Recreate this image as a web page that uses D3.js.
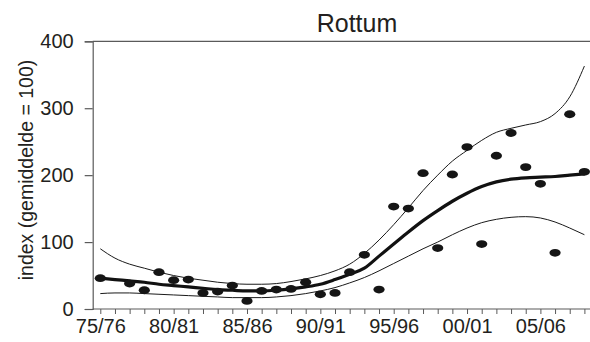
<!DOCTYPE html>
<html>
<head>
<meta charset="utf-8">
<script src="https://cdn.jsdelivr.net/npm/d3@7/dist/d3.min.js"></script>
<style>
  html, body { margin: 0; padding: 0; background: #fff; }
  svg { display: block; font-family: "Liberation Sans", Arial, Helvetica, sans-serif; }
</style>
</head>
<body>
<svg id="chart" width="590" height="342"></svg>
<script>
// Seasons 1975/76 .. 2008/09
const seasons = ["75/76","76/77","77/78","78/79","79/80","80/81","81/82","82/83","83/84","84/85",
                 "85/86","86/87","87/88","88/89","89/90","90/91","91/92","92/93","93/94","94/95",
                 "95/96","96/97","97/98","98/99","99/00","00/01","01/02","02/03","03/04","04/05",
                 "05/06","06/07","07/08","08/09"];
const labelledSeasons = ["75/76","80/81","85/86","90/91","95/96","00/01","05/06"];

// Yearly index values (null = no count)
const indexValues = [46, null, 38, 28, 55, 43, 44, 24, 26, 35,
                     12, 27, 29, 30, 40, 22, 24, 55, 81, 29,
                     153, 150, 203, 91, 201, 242, 97, 229, 263, 212,
                     187, 84, 291, 205];

// Smoothed trend and its confidence band
const trend = [46, 44, 42, 40, 37, 35, 33, 31, 29, 28,
               27, 27, 28, 30, 33, 37, 44, 52, 61, 79,
               97, 115, 132, 147, 161, 173, 183, 190, 194, 196,
               197, 198, 200, 202];
const upper = [90, 76, 67, 61, 55, 50, 46, 43, 40, 38,
               37, 37, 38, 41, 45, 50, 57, 67, 83, 103,
               126, 151, 177, 200, 221, 237, 252, 264, 270, 275,
               280, 292, 317, 363];
const lower = [23, 24, 24, 23, 22, 21, 20, 19, 18, 17,
               17, 17, 18, 20, 23, 27, 32, 39, 47, 57,
               68, 79, 90, 100, 111, 121, 129, 134, 137, 138,
               136, 130, 121, 111];

const yTicks = [0, 100, 200, 300, 400];
const title = "Rottum";
const yLabel = "index (gemiddelde = 100)";

const svg = d3.select("#chart");
const W = 590;
const x = d3.scalePoint().domain(seasons).range([100.3, 584.4]);
const y = d3.scaleLinear().domain([0, 400]).range([309, 41.3]);
const axisLeft = 92.7;
const ink = "#231f20";
const axisColor = "#5a5a5a";

// top frame line
svg.append("line")
  .attr("x1", axisLeft).attr("x2", W)
  .attr("y1", y(400)).attr("y2", y(400))
  .attr("stroke", axisColor).attr("stroke-width", 1.2);

// y axis
const gy = svg.append("g")
  .attr("transform", `translate(${axisLeft},0)`)
  .call(d3.axisLeft(y).tickValues(yTicks).tickSize(8).tickPadding(11).tickFormat(d3.format("d")));
gy.select(".domain").attr("stroke", axisColor).attr("stroke-width", 1.2);
gy.selectAll(".tick line").attr("stroke", axisColor).attr("stroke-width", 1.2);
gy.selectAll("text").attr("font-size", 20).attr("fill", ink)
  .style("font-family", "'Liberation Sans', Arial, sans-serif");

// x axis
const gx = svg.append("g")
  .attr("transform", `translate(0,${y(0)})`)
  .call(d3.axisBottom(x).tickSize(5).tickPadding(4.8)
    .tickFormat(d => labelledSeasons.includes(d) ? d : ""));
gx.select(".domain").attr("d", `M${axisLeft},0H${W}`).attr("stroke", axisColor).attr("stroke-width", 1.2);
gx.selectAll(".tick line").attr("stroke", axisColor).attr("stroke-width", 1);
gx.selectAll("text").attr("font-size", 20).attr("fill", ink)
  .style("font-family", "'Liberation Sans', Arial, sans-serif");

// trend lines
const line = d3.line()
  .x((d, i) => x(seasons[i]))
  .y(d => y(d))
  .curve(d3.curveMonotoneX);

svg.append("path").datum(upper).attr("d", line)
  .attr("fill", "none").attr("stroke", "#1a1a1a").attr("stroke-width", 1);
svg.append("path").datum(lower).attr("d", line)
  .attr("fill", "none").attr("stroke", "#1a1a1a").attr("stroke-width", 1);
svg.append("path").datum(trend).attr("d", line)
  .attr("fill", "none").attr("stroke", "#111").attr("stroke-width", 3.2);

// yearly points
svg.append("g").selectAll("ellipse")
  .data(seasons.map((s, i) => ({ s, v: indexValues[i] })).filter(d => d.v !== null))
  .join("ellipse")
  .attr("cx", d => x(d.s))
  .attr("cy", d => y(d.v))
  .attr("rx", 5.6).attr("ry", 3.9)
  .attr("fill", "#151515");

// title
svg.append("text")
  .attr("x", 357).attr("y", 31.5)
  .attr("text-anchor", "middle")
  .attr("font-size", 25).attr("fill", ink)
  .text(title);

// y axis label
svg.append("text")
  .attr("transform", `translate(33,170) rotate(-90)`)
  .attr("text-anchor", "middle")
  .attr("font-size", 19.5).attr("fill", ink)
  .text(yLabel);
</script>
</body>
</html>
